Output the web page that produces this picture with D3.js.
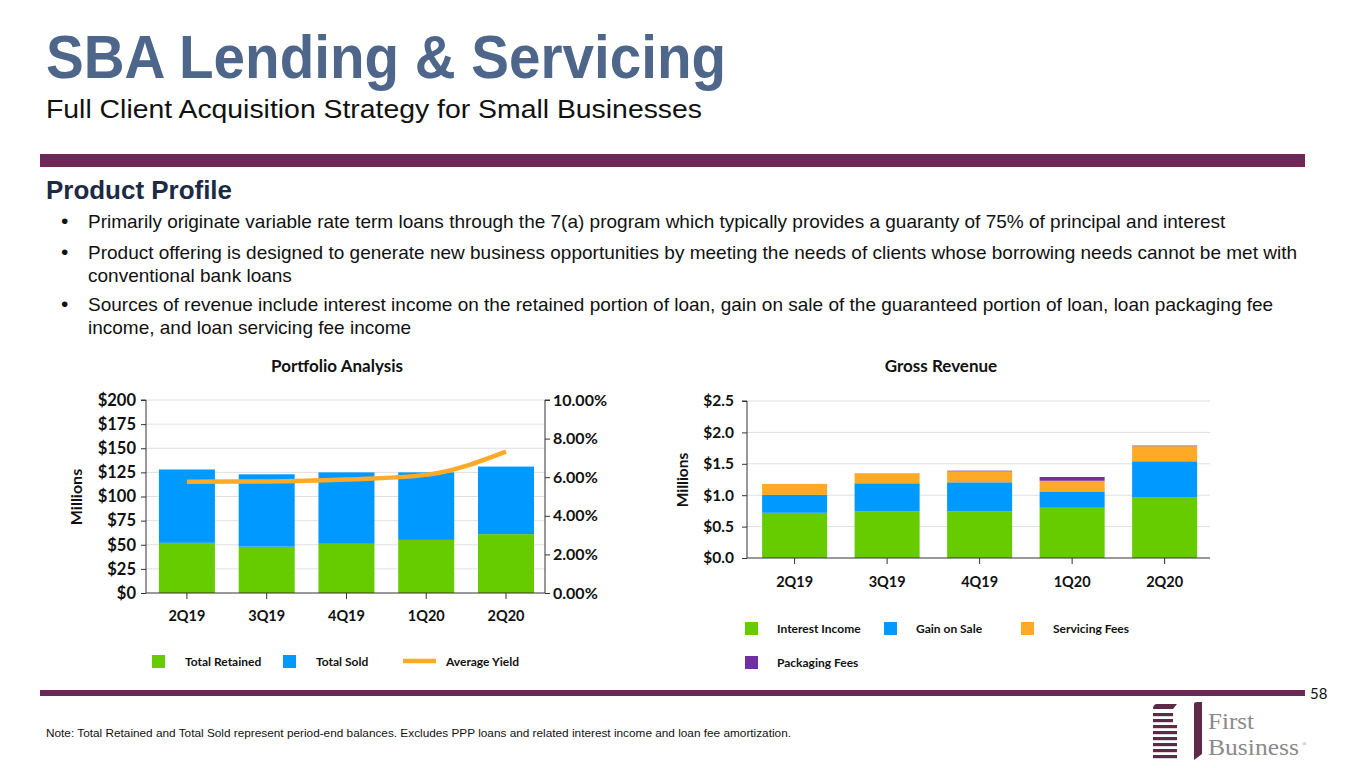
<!DOCTYPE html>
<html><head><meta charset="utf-8">
<script src="https://cdn.jsdelivr.net/npm/d3@7"></script>
<style>
body{margin:0;background:#fff;}
svg{display:block;}
</style></head>
<body>
<svg id="c" width="1365" height="768"></svg>
<script>
// ---- data ----
const quarters = ["2Q19","3Q19","4Q19","1Q20","2Q20"];
const totalRetained = [52, 48, 51, 55, 61];
const totalSold = [76, 75, 74, 70, 70];
const averageYield = [5.77, 5.78, 5.88, 6.12, 7.33];
const interestIncome = [0.72, 0.74, 0.74, 0.80, 0.97];
const gainOnSale = [0.285, 0.45, 0.465, 0.26, 0.57];
const servicingFees = [0.175, 0.16, 0.175, 0.17, 0.24];
const packagingFees = [0, 0, 0.01, 0.06, 0.01];
const leftTicks = [0,25,50,75,100,125,150,175,200];
const pctTicks = [0,2,4,6,8,10];
const revTicks = [0,0.5,1.0,1.5,2.0,2.5];
const bullets = [
 ["Primarily originate variable rate term loans through the 7(a) program which typically provides a guaranty of 75% of principal and interest"],
 ["Product offering is designed to generate new business opportunities by meeting the needs of clients whose borrowing needs cannot be met with","conventional bank loans"],
 ["Sources of revenue include interest income on the retained portion of loan, gain on sale of the guaranteed portion of loan, loan packaging fee","income, and loan servicing fee income"]
];
const C = {green:"#66cc00", blue:"#0099ff", orange:"#fdaa27", purple:"#7030a0"};

const svg = d3.select("#c");
const lab = "Lato, 'Open Sans', sans-serif";
const ari = "'Liberation Sans', Arial, sans-serif";

// header
svg.append("text").attr("x",46).attr("y",78).attr("font-family",ari).attr("font-weight","bold")
  .attr("font-size",61).attr("textLength",680).attr("lengthAdjust","spacingAndGlyphs")
  .attr("fill","#4d6689").text("SBA Lending & Servicing");
svg.append("text").attr("x",46).attr("y",118).attr("font-family",ari)
  .attr("font-size",25).attr("textLength",656).attr("lengthAdjust","spacingAndGlyphs")
  .attr("fill","#111").text("Full Client Acquisition Strategy for Small Businesses");
svg.append("rect").attr("x",40).attr("y",154).attr("width",1265).attr("height",13).attr("fill","#6f2757");
svg.append("text").attr("x",46).attr("y",199).attr("font-family",ari).attr("font-weight","bold")
  .attr("font-size",25).attr("textLength",186).attr("lengthAdjust","spacingAndGlyphs")
  .attr("fill","#1c2a44").text("Product Profile");
const bY = [228,259,311];
bullets.forEach((b,i)=>{
  svg.append("text").attr("x",61).attr("y",bY[i]).attr("font-family",ari).attr("font-size",21).attr("fill","#111").text("•");
  b.forEach((l,j)=>svg.append("text").attr("x",88).attr("y",bY[i]+j*23).attr("font-family",ari)
    .attr("font-size",19).attr("fill","#111").text(l));
});

// ---- Left chart ----
const L = {x0:146, x1:545, y0:593, y1:400};
const xL = d3.scaleBand().domain(quarters).range([L.x0,L.x1]).paddingInner(0.298).paddingOuter(0.15).align(0.54);
const yL = d3.scaleLinear().domain([0,200]).range([L.y0,L.y1]);
const yP = d3.scaleLinear().domain([0,10]).range([L.y0,L.y1]);
const gL = svg.append("g");
gL.append("g").selectAll("line").data(leftTicks.slice(1)).join("line")
  .attr("x1",L.x0).attr("x2",L.x1).attr("y1",d=>yL(d)).attr("y2",d=>yL(d)).attr("stroke","#e0e0e0");
gL.selectAll(".r").data(quarters).join("rect").attr("x",d=>xL(d)).attr("width",xL.bandwidth())
  .attr("y",(d,i)=>yL(totalRetained[i])).attr("height",(d,i)=>yL(0)-yL(totalRetained[i])).attr("fill",C.green);
gL.selectAll(".s").data(quarters).join("rect").attr("x",d=>xL(d)).attr("width",xL.bandwidth())
  .attr("y",(d,i)=>yL(totalRetained[i]+totalSold[i])).attr("height",(d,i)=>yL(0)-yL(totalSold[i])).attr("fill",C.blue);
const line = d3.line().x((d,i)=>xL(quarters[i])+xL.bandwidth()/2).y(d=>yP(d)).curve(d3.curveMonotoneX);
gL.append("path").attr("d",line(averageYield)).attr("fill","none").attr("stroke",C.orange).attr("stroke-width",4.5);
const axL = gL.append("g").attr("transform",`translate(${L.x0},0)`).call(d3.axisLeft(yL).tickValues(leftTicks).tickSize(5).tickPadding(5).tickFormat(d=>"$"+d));
const axR = gL.append("g").attr("transform",`translate(${L.x1},0)`).call(d3.axisRight(yP).tickValues(pctTicks).tickSize(5).tickPadding(3).tickFormat(d=>d.toFixed(2)+"%"));
const axB = gL.append("g").attr("transform",`translate(0,${L.y0})`).call(d3.axisBottom(xL).tickSize(6).tickPadding(12));
[axL,axR,axB].forEach(a=>{a.selectAll("path,line").attr("stroke","#333");a.selectAll("text").attr("font-family",lab).attr("font-weight","bold").attr("fill","#111");});
axL.selectAll("text").attr("font-size",16.5);
axR.selectAll("text").attr("font-size",16);
axB.selectAll("text").attr("font-size",14.5);
axL.select(".domain").attr("d",`M-5,${L.y1}H0V${L.y0}`);
axR.select(".domain").attr("d",`M5,${L.y1}H0V${L.y0}`);
axB.select(".domain").attr("d",`M${L.x0},0H${L.x1}`);
svg.append("text").attr("transform","translate(82,497) rotate(-90)").attr("text-anchor","middle")
  .attr("font-family",lab).attr("font-weight","bold").attr("font-size",16).attr("fill","#111").text("Millions");
svg.append("text").attr("x",337).attr("y",372).attr("text-anchor","middle").attr("font-family",lab)
  .attr("font-weight","bold").attr("font-size",17).attr("fill","#111").text("Portfolio Analysis");
// left legend
const legL = [{t:"Total Retained",c:C.green,x:152},{t:"Total Sold",c:C.blue,x:283},{t:"Average Yield",c:C.orange,x:403,line:true}];
legL.forEach(d=>{
  if(d.line) svg.append("line").attr("x1",d.x).attr("x2",d.x+33).attr("y1",661).attr("y2",661).attr("stroke",d.c).attr("stroke-width",4.5);
  else svg.append("rect").attr("x",d.x).attr("y",655).attr("width",13).attr("height",13).attr("fill",d.c);
  svg.append("text").attr("x",d.line?d.x+43:d.x+33).attr("y",666).attr("font-family",lab).attr("font-weight","bold")
    .attr("font-size",12).attr("fill","#111").text(d.t);
});

// ---- Right chart ----
const R = {x0:747, x1:1210, y0:558, y1:401};
const xR = d3.scaleBand().domain(quarters).range([R.x0,R.x1]).paddingInner(0.297).paddingOuter(0.151).align(0.54);
const yR = d3.scaleLinear().domain([0,2.5]).range([R.y0,R.y1]);
const gR = svg.append("g");
gR.selectAll("line.g").data(revTicks.slice(1)).join("line")
  .attr("x1",R.x0).attr("x2",R.x1).attr("y1",d=>yR(d)).attr("y2",d=>yR(d)).attr("stroke","#e0e0e0");
const series = [[interestIncome,C.green],[gainOnSale,C.blue],[servicingFees,C.orange],[packagingFees,C.purple]];
const base = quarters.map(()=>0);
series.forEach(([vals,col])=>{
  gR.append("g").selectAll("rect").data(quarters).join("rect").attr("x",d=>xR(d)).attr("width",xR.bandwidth())
    .attr("y",(d,i)=>yR(base[i]+vals[i])).attr("height",(d,i)=>yR(0)-yR(vals[i])).attr("fill",col);
  vals.forEach((v,i)=>base[i]+=v);
});
const axRL = gR.append("g").attr("transform",`translate(${R.x0},0)`).call(d3.axisLeft(yR).tickValues(revTicks).tickSize(5).tickPadding(8).tickFormat(d=>"$"+d.toFixed(1)));
const axRB = gR.append("g").attr("transform",`translate(0,${R.y0})`).call(d3.axisBottom(xR).tickSize(6).tickPadding(13));
[axRL,axRB].forEach(a=>{a.selectAll("path,line").attr("stroke","#333");a.selectAll("text").attr("font-family",lab).attr("font-weight","bold").attr("fill","#111");});
axRL.selectAll("text").attr("font-size",15.5);
axRB.selectAll("text").attr("font-size",14.5);
axRL.select(".domain").attr("d",`M-5,${R.y1}H0V${R.y0}`);
axRB.select(".domain").attr("d",`M${R.x0},0H${R.x1}`);
svg.append("text").attr("transform","translate(688,480) rotate(-90)").attr("text-anchor","middle")
  .attr("font-family",lab).attr("font-weight","bold").attr("font-size",15.5).attr("fill","#111").text("Millions");
svg.append("text").attr("x",941).attr("y",372).attr("text-anchor","middle").attr("font-family",lab)
  .attr("font-weight","bold").attr("font-size",17).attr("fill","#111").text("Gross Revenue");
const legR = [{t:"Interest Income",c:C.green,x:745,y:622},{t:"Gain on Sale",c:C.blue,x:884,y:622},
  {t:"Servicing Fees",c:C.orange,x:1021,y:622},{t:"Packaging Fees",c:C.purple,x:745,y:656}];
legR.forEach(d=>{
  svg.append("rect").attr("x",d.x).attr("y",d.y).attr("width",13).attr("height",13).attr("fill",d.c);
  svg.append("text").attr("x",d.x+32).attr("y",d.y+11).attr("font-family",lab).attr("font-weight","bold")
    .attr("font-size",12).attr("fill","#111").text(d.t);
});

// footer
svg.append("rect").attr("x",40).attr("y",690).attr("width",1265).attr("height",6).attr("fill","#6f2757");
svg.append("text").attr("x",1310).attr("y",699).attr("font-family",lab).attr("font-size",15).attr("fill","#111").text("58");
svg.append("text").attr("x",46).attr("y",737).attr("font-family",ari).attr("font-size",11.8).attr("fill","#111")
  .text("Note: Total Retained and Total Sold represent period-end balances. Excludes PPP loans and related interest income and loan fee amortization.");
// logo
const lg = svg.append("g").attr("fill","#5e2a48");
lg.append("path").attr("d","M1156,704 L1177,704 L1173,709 L1153,709 Q1153,705 1156,704 Z");
[713,719,725,731,737,743,749,755].forEach((y,i)=>lg.append("rect").attr("x",1153).attr("y",y).attr("width",i<2?20:24).attr("height",3.2));
lg.append("path").attr("d","M1194,704 Q1194,702 1197,702 L1202,702 L1202,754 L1194,760 Z");
const serif = "'Liberation Serif', serif";
svg.append("text").attr("x",1208).attr("y",729).attr("font-family",serif).attr("font-size",23.5)
  .attr("textLength",46).attr("lengthAdjust","spacingAndGlyphs").attr("fill","#8a8a8a").text("First");
svg.append("text").attr("x",1208).attr("y",755).attr("font-family",serif).attr("font-size",23.5)
  .attr("textLength",91).attr("lengthAdjust","spacingAndGlyphs").attr("fill","#8a8a8a").text("Business");
svg.append("text").attr("x",1302).attr("y",746).attr("font-family",serif).attr("font-size",6).attr("fill","#8a8a8a").text("®");
</script>
</body></html>
